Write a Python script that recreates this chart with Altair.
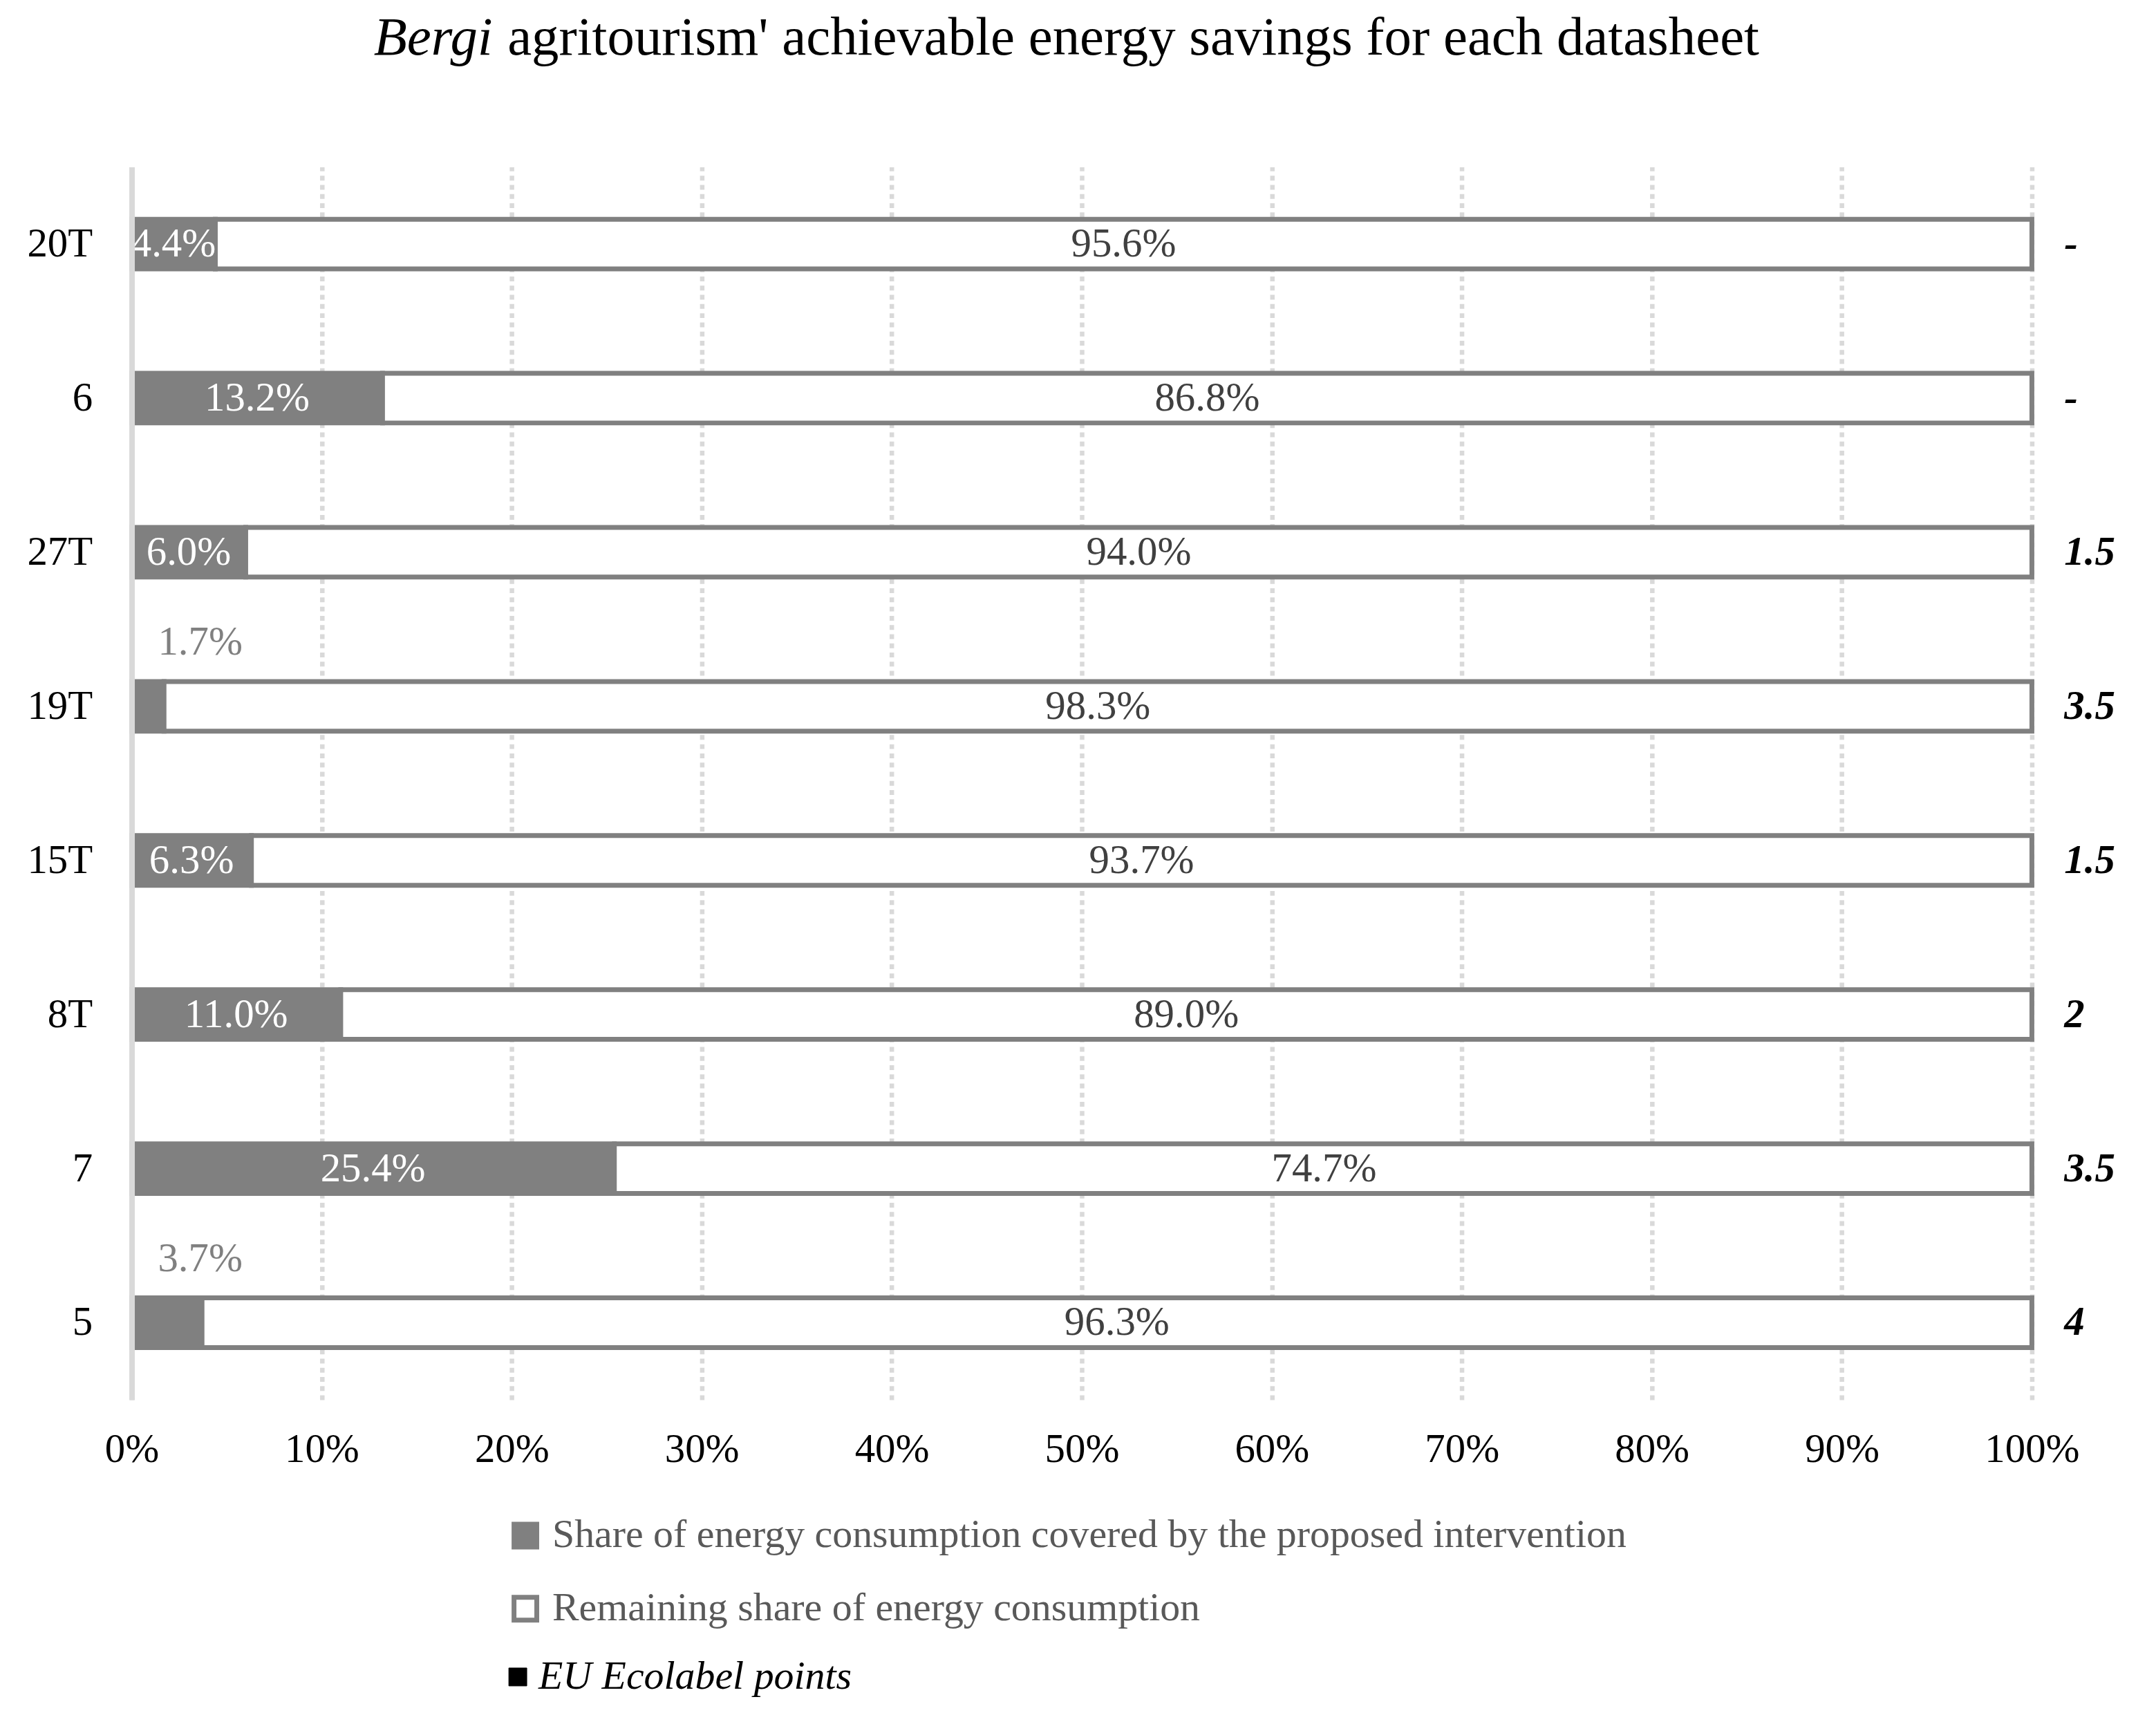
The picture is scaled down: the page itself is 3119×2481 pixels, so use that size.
import altair as alt
import pandas as pd

# datasheets, top to bottom
categories = ["20T", "6", "27T", "19T", "15T", "8T", "7", "5"]
covered = [4.4, 13.2, 6.0, 1.7, 6.3, 11.0, 25.4, 3.7]
remaining = [95.6, 86.8, 94.0, 98.3, 93.7, 89.0, 74.7, 96.3]
ecolabel_points = ["-", "-", "1.5", "3.5", "1.5", "2", "3.5", "4"]

s_cov = "Share of energy consumption covered by the proposed intervention"
s_rem = "Remaining share of energy consumption"
s_pts = "EU Ecolabel points"

title_italic = "Bergi"
title_rest = "agritourism' achievable energy savings for each datasheet"

FONT = "Liberation Serif"

rows = []
for c, a, b in zip(categories, covered, remaining):
    rows.append({"category": c, "series": s_cov, "value": a, "order": 0})
    rows.append({"category": c, "series": s_rem, "value": b, "order": 1})
df = pd.DataFrame(rows)
pts = pd.DataFrame({"category": categories, "points": ecolabel_points, "key": s_pts})

y_enc = alt.Y("category:N", sort=categories,
              scale=alt.Scale(paddingInner=0.5, paddingOuter=0.25),
              axis=alt.Axis(title=None, domain=True, domainColor="#d9d9d9", domainWidth=8,
                            ticks=False, labelFont=FONT, labelFontSize=59, labelColor="black",
                            labelPadding=57, zindex=1))
y_txt = alt.Y("category:N", sort=categories)

x_scale = alt.Scale(domain=[0, 100], clamp=True, nice=False)
x_axis = alt.Axis(title=None, values=list(range(0, 101, 10)), labelExpr="datum.value + '%'",
                  domain=False, ticks=False, grid=True, gridColor="#d9d9d9", gridWidth=6.5,
                  gridDash=[7, 6.3], labelFont=FONT, labelFontSize=59, labelColor="black",
                  labelPadding=43, labelFlush=False, labelOverlap=False)

bar_legend = alt.Legend(
    title=None, orient="none", legendX=542, legendY=1956, direction="vertical",
    symbolType="square", symbolSize=1089, symbolStrokeWidth=7, symbolStrokeColor="#808080",
    labelFont=FONT, labelFontSize=58, labelColor="#595959", labelOffset=10, rowPadding=44,
    padding=0, labelLimit=3000, labelBaseline="middle",
)

pts_legend = alt.Legend(
    title=None, orient="none", legendX=531, legendY=2161, direction="vertical",
    symbolType="square", symbolSize=676, symbolStrokeWidth=1, symbolStrokeColor="#000000",
    symbolFillColor="#000000", labelFont=FONT, labelFontSize=58, labelColor="#000000",
    labelFontStyle="italic", labelOffset=1, padding=0, labelLimit=3000, labelBaseline="middle",
)

base = alt.Chart(df).transform_stack(
    stack="value", groupby=["category"], sort=[alt.SortField("order", "ascending")],
    as_=["v0", "v1"]
).transform_calculate(
    mid="(datum.v0 + datum.v1) / 2",
    label="format(datum.value, '.1f') + '%'"
)

bars = base.mark_bar(size=72, stroke="#808080", strokeWidth=7, strokeJoin="miter").encode(
    y=y_enc,
    x=alt.X("v0:Q", scale=x_scale, axis=x_axis),
    x2="v1:Q",
    color=alt.Color("series:N",
                    scale=alt.Scale(domain=[s_cov, s_rem], range=["#808080", "#ffffff"]),
                    legend=bar_legend),
)

txt = dict(font=FONT, fontSize=59, baseline="middle")

cov_in = base.transform_filter(f"datum.series === '{s_cov}' && datum.value >= 4").mark_text(
    color="#ffffff", **txt).encode(y=y_txt, x="mid:Q", text="label:N")

cov_out = base.transform_filter(f"datum.series === '{s_cov}' && datum.value < 4").mark_text(
    color="#808080", align="left", dx=38, dy=-93, **txt).encode(
    y=y_txt, x=alt.X(datum=0), text="label:N")

rem = base.transform_filter(f"datum.series === '{s_rem}'").mark_text(
    color="#404040", **txt).encode(y=y_txt, x="mid:Q", text="label:N")

points = alt.Chart(pts).mark_text(
    align="left", dx=47, fontWeight="bold", fontStyle="italic", **txt
).encode(
    y=y_txt, x=alt.X(datum=100), text="points:N",
    fill=alt.Fill("key:N", scale=alt.Scale(domain=[s_pts], range=["#000000"]),
                  legend=pts_legend),
)

# chart title: italic farm name followed by upright text
title_df = pd.DataFrame({"t": [title_italic]})
t1 = alt.Chart(title_df).mark_text(
    font=FONT, fontSize=79, fontStyle="italic", align="left", baseline="alphabetic",
    color="#000000"
).encode(x=alt.value(351), y=alt.value(-163), text="t:N")
t2 = alt.Chart(title_df).mark_text(
    font=FONT, fontSize=79, align="left", baseline="alphabetic", color="#000000",
    text=title_rest
).encode(x=alt.value(545), y=alt.value(-163))

chart = alt.layer(bars, cov_in, cov_out, rem, points, t1, t2).properties(
    width=2756,
    height=1788,
    autosize=alt.AutoSizeParams(type="none"),
    padding={"left": 183, "top": 231, "right": 172, "bottom": 450},
    background="#ffffff",
).configure_view(strokeWidth=0)

chart.save("out.html", embed_options={"renderer": "svg", "actions": False})
